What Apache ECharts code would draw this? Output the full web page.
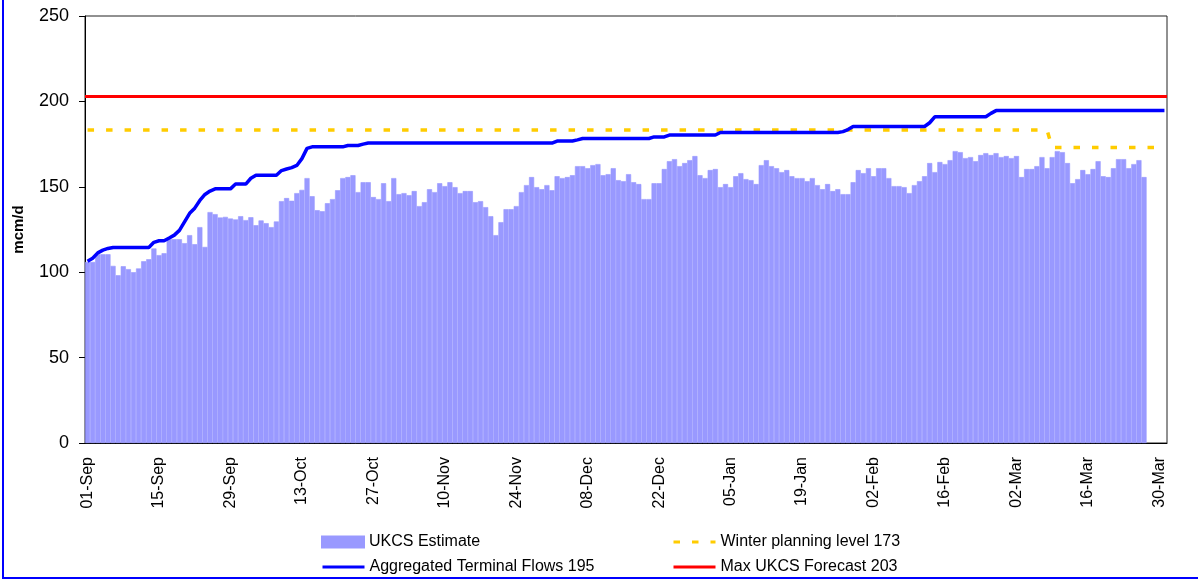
<!DOCTYPE html>
<html>
<head>
<meta charset="utf-8">
<script src="https://cdn.jsdelivr.net/npm/echarts/dist/echarts.min.js"></script>
<style>
	body { margin: 0; background: #fff; }
	#chart { position: absolute; left: 0; top: 0; width: 1198px; height: 579px; }
	#edgeLeft { position: absolute; left: 2px; top: 0; width: 2px; height: 579px; background: #0000ff; }
	#edgeBottom { position: absolute; left: 2px; top: 577px; width: 1196px; height: 2px; background: #0000ff; }
</style>
</head>
<body>
<div id="chart"></div>
<div id="edgeLeft"></div>
<div id="edgeBottom"></div>
<script>
// daily axis: 01-Sep .. 31-Mar (Feb has 28 days)
var monthNames = ['Jan','Feb','Mar','Apr','May','Jun','Jul','Aug','Sep','Oct','Nov','Dec'];
var days = [];
for (var d = Date.UTC(2009, 8, 1); d <= Date.UTC(2010, 2, 31); d += 86400000) {
	var dt = new Date(d);
	var dd = dt.getUTCDate();
	days.push((dd < 10 ? '0' : '') + dd + '-' + monthNames[dt.getUTCMonth()]);
}

// UKCS Estimate, 01-Sep .. 27-Mar
var ukcsEstimate = [
	106, 106, 110.5, 110.5, 110.5, 103.7, 98.2, 103.5, 101.8, 100,
	102.2, 106.4, 107.6, 113.9, 110, 111.1, 119.3, 119.3, 119.3, 117,
	121.7, 116.4, 126.4, 114.8, 135.2, 134, 132, 132.4, 131.4, 130.9,
	132.8, 130.5, 132.2, 127.5, 130.3, 128.7, 126.4, 129.7, 141.6, 143.4,
	141.8, 146.3, 148.2, 155.1, 144.5, 136.3, 135.7, 140.4, 142.8, 148,
	155.1, 155.7, 156.8, 146.9, 152.7, 152.7, 144, 142.8, 152.1, 141.6,
	155.1, 145.7, 146.3, 145.1, 147.5, 138.7, 141, 148.6, 146.9, 152.1,
	150.4, 152.7, 149.8, 146.3, 147.5, 147.5, 141, 141.6, 138.1, 132.8,
	121.7, 129.3, 136.9, 136.9, 138.7, 146.9, 151, 155.7, 149.8, 148.6,
	151, 148, 156.2, 155.1, 155.7, 156.8, 162.1, 162.1, 160.9, 162.7,
	163.3, 156.8, 157.4, 160.9, 153.9, 153.3, 157.4, 152.7, 151.6, 142.8,
	142.8, 152.1, 152.1, 160.4, 165, 166.2, 162.1, 163.9, 165.6, 168,
	156.8, 155.1, 159.8, 160.4, 149.8, 151.6, 149.8, 156.2, 158, 154.5,
	153.9, 151.6, 162.7, 165.6, 162.1, 160.9, 158.6, 159.8, 156.2, 155.1,
	155.1, 153.3, 155.1, 151, 148.6, 151.6, 147.5, 148.6, 145.7, 145.7,
	152.7, 159.8, 158, 160.9, 156.2, 160.9, 160.9, 155.1, 150.4, 150.4,
	149.8, 146.3, 151, 153.3, 156.2, 163.9, 158.6, 164.5, 163.3, 165.6,
	170.9, 170.3, 166.8, 167.4, 165, 168.6, 169.7, 168.6, 169.7, 167.4,
	168, 166.8, 168, 155.7, 160.4, 160.4, 162.1, 167.4, 160.9, 167.4,
	170.9, 170.3, 163.9, 152.1, 154.5, 159.8, 157.4, 160.4, 165, 156.2,
	155.7, 160.9, 166.2, 166.2, 160.9, 163.3, 165.6, 155.7
];

// Aggregated Terminal Flows, 01-Sep .. 31-Mar
var terminalFlows = [
	106.4, 108.2, 111.3, 112.9, 113.9, 114.5, 114.5, 114.5, 114.5, 114.5, 114.5, 114.5, 114.5,
	117.5, 118.4, 118.4, 120.0, 121.7, 124.5, 129.5, 134.5, 137.5, 142.0, 145.5, 147.5,
	148.8, 148.8, 148.8, 148.8, 151.6, 151.6, 151.6, 155.0, 156.8, 156.8, 156.8, 156.8, 156.8,
	159.5, 160.4, 161.2, 162.5, 166.5, 172.5, 173.4, 173.4, 173.4, 173.4, 173.4, 173.4, 173.4, 174.2, 174.2, 174.2, 175.0,
	175.6, 175.6, 175.6, 175.6, 175.6, 175.6, 175.6, 175.6, 175.6, 175.6, 175.6, 175.6,
	175.6, 175.6, 175.6, 175.6, 175.6, 175.6, 175.6, 175.6, 175.6, 175.6, 175.6, 175.6,
	175.6, 175.6, 175.6, 175.6, 175.6, 175.6, 175.6, 175.6, 175.6, 175.6, 175.6, 175.6, 175.6,
	176.8, 176.8, 176.8, 176.8, 177.5, 178.3, 178.3, 178.3, 178.3, 178.3, 178.3, 178.3, 178.3, 178.3, 178.3, 178.3, 178.3, 178.3, 178.3,
	179.2, 179.2, 179.2, 180.3, 180.3, 180.3, 180.3, 180.3, 180.3, 180.3, 180.3, 180.3, 180.3,
	181.8, 181.8, 181.8, 181.8, 181.8, 181.8, 181.8, 181.8, 181.8, 181.8, 181.8, 181.8,
	181.8, 181.8, 181.8, 181.8, 181.8, 181.8, 181.8, 181.8, 181.8, 181.8, 181.8, 181.8, 182.3, 183.5,
	185.3, 185.3, 185.3, 185.3, 185.3, 185.3, 185.3, 185.3, 185.3, 185.3, 185.3, 185.3, 185.3, 185.3, 185.3,
	187.5, 191, 191, 191, 191, 191, 191, 191, 191, 191, 191, 191, 193,
	194.6, 194.6, 194.6, 194.6, 194.6, 194.6, 194.6, 194.6, 194.6, 194.6, 194.6, 194.6,
	194.6, 194.6, 194.6, 194.6, 194.6, 194.6, 194.6, 194.6, 194.6, 194.6, 194.6, 194.6,
	194.6, 194.6, 194.6, 194.6, 194.6, 194.6, 194.6, 194.6, 194.6, 194.6
];

// Winter planning level: steps down on 09-Mar
var winterLevels = [183.2, 173];
var winterChangeDay = '09-Mar';

var maxForecast = 203;

var yTicks = [0, 50, 100, 150, 200, 250];

var changeIdx = days.indexOf(winterChangeDay);
var winterLine = days.map(function (day, i) {
	return i < changeIdx ? winterLevels[0] : winterLevels[1];
});

var font = 'Arial, "Liberation Sans", Helvetica, sans-serif';

// one legend box per entry, laid out as two columns like the original
function legendItem(name, left, top, isLine) {
	var l = {
		left: left, top: top, padding: 0,
		itemWidth: 42, itemHeight: 11,
		textStyle: { fontSize: 16, color: '#000', fontFamily: font, lineHeight: 16 },
		data: [isLine ? name : { name: name, icon: 'rect' }]
	};
	if (isLine) {
		l.itemStyle = { opacity: 0 };
		l.lineStyle = { width: 3 };
	}
	return l;
}

var chart = echarts.init(document.getElementById('chart'));
chart.setOption({
	animation: false,
	textStyle: { fontFamily: font },
	grid: {
		left: 85, right: 31, top: 16, bottom: 136,
		outerBoundsMode: 'none',
		containLabel: false,
		show: true, borderColor: '#222', borderWidth: 1
	},
	legend: [
		legendItem('UKCS Estimate', 321, 534, false),
		legendItem('Aggregated Terminal Flows 195', 321, 559, true),
		legendItem('Winter planning level 173', 672, 534, true),
		legendItem('Max UKCS Forecast 203', 672, 559, true)
	],
	xAxis: {
		type: 'category',
		data: days,
		boundaryGap: true,
		axisLine: { lineStyle: { color: '#000', width: 1 } },
		axisTick: { interval: 13, length: 5, lineStyle: { color: '#000' } },
		axisLabel: { interval: 13, rotate: 90, fontSize: 16, color: '#000', margin: 14, fontFamily: font },
		splitLine: { show: false }
	},
	yAxis: {
		type: 'value',
		min: yTicks[0], max: yTicks[yTicks.length - 1], interval: 50,
		name: 'mcm/d', nameLocation: 'middle', nameRotate: 90, nameGap: 59,
		nameTextStyle: { fontSize: 15, fontWeight: 'bold', color: '#000', fontFamily: font },
		axisLine: { show: true, lineStyle: { color: '#000', width: 1 } },
		axisTick: { show: true, length: 6, lineStyle: { color: '#000' } },
		axisLabel: { fontSize: 18, color: '#000', margin: 16, fontFamily: font },
		splitLine: { show: false }
	},
	series: [
		{
			name: 'UKCS Estimate',
			type: 'bar',
			data: ukcsEstimate,
			barCategoryGap: '0%',
			itemStyle: { color: '#9999ff', borderColor: '#9999ff', borderWidth: 0.6 }
		},
		{
			name: 'Aggregated Terminal Flows 195',
			type: 'line',
			data: terminalFlows,
			symbol: 'none',
			color: '#0000ff',
			lineStyle: { color: '#0000ff', width: 3.5 },
			z: 4
		},
		{
			name: 'Winter planning level 173',
			type: 'line',
			data: winterLine,
			symbol: 'none',
			color: '#ffcc00',
			lineStyle: { color: '#ffcc00', width: 3.5, type: [6.5, 12] },
			z: 3
		},
		{
			name: 'Max UKCS Forecast 203',
			type: 'line',
			data: [],
			symbol: 'none',
			color: '#ff0000',
			lineStyle: { color: '#ff0000', width: 3 },
			markLine: {
				silent: true,
				symbol: ['none', 'none'],
				label: { show: false },
				lineStyle: { color: '#ff0000', width: 3, type: 'solid' },
				data: [{ yAxis: maxForecast }]
			},
			z: 5
		}
	]
});
</script>
</body>
</html>
